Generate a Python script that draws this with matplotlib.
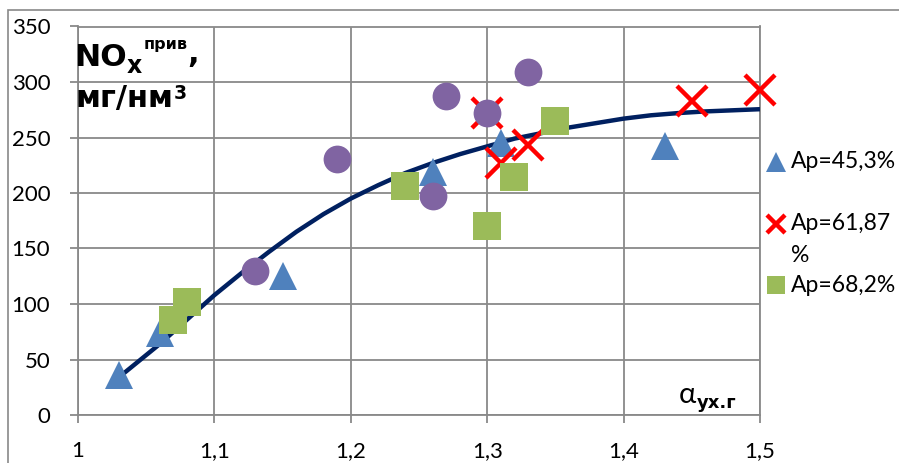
import matplotlib
matplotlib.use("Agg")
import matplotlib.pyplot as plt
from matplotlib.lines import Line2D
from matplotlib.patches import Rectangle

plt.rcParams['font.family'] = ['Lato', 'DejaVu Sans']

# series Ap=45,3%
tri_x = [1.03, 1.06, 1.15, 1.26, 1.31, 1.43]
tri_y = [36, 74, 125, 219, 245, 242]
# series Ap=61,87%
cross_x = [1.30, 1.31, 1.33, 1.45, 1.50]
cross_y = [272, 227, 243, 283, 293]
# series Ap=68,2%
sq_x = [1.07, 1.08, 1.24, 1.30, 1.32, 1.35]
sq_y = [86, 102, 206, 170, 214, 265]
# extra points (no legend entry)
circ_x = [1.13, 1.19, 1.26, 1.27, 1.30, 1.33]
circ_y = [130, 231, 197, 287, 272, 309]
# trend curve
trend_x = [1.03, 1.045, 1.06, 1.08, 1.10, 1.12, 1.14, 1.16, 1.18, 1.20,
           1.22, 1.24, 1.26, 1.28, 1.30, 1.32, 1.34, 1.36, 1.38, 1.40,
           1.42, 1.44, 1.46, 1.48, 1.50]
trend_y = [34, 49, 64, 86, 108, 128, 147, 165, 181, 195,
           207, 218, 227, 235, 242, 249, 254, 259, 263, 267,
           270, 272, 273.5, 274.5, 275.5]

xticks = [1.0, 1.1, 1.2, 1.3, 1.4, 1.5]
xtick_labels = ['1', '1,1', '1,2', '1,3', '1,4', '1,5']
yticks = [0, 50, 100, 150, 200, 250, 300, 350]
legend_labels = ['Ap=45,3%', 'Ap=61,87', 'Ap=68,2%']

W, H = 899, 463
grey = '#898989'


def px(x, y):
    "pixel position (from top-left) -> figure fraction"
    return x / W, 1 - y / H


fig = plt.figure(figsize=(W / 100, H / 100), dpi=100)
ax = fig.add_axes([78 / W, 1 - 415 / H, (760 - 78) / W, (415 - 26.5) / H])

ax.plot(trend_x, trend_y, color='#002060', lw=3.2, zorder=3, solid_capstyle='butt')
ax.plot(tri_x, tri_y, ls='none', marker='^', ms=20, color='#4F81BD', mew=0,
        zorder=4, clip_on=False)
ax.plot(cross_x, cross_y, ls='none', marker='x', ms=21, mew=3.2, color='#FF0000',
        zorder=5, clip_on=False)
ax.plot(sq_x, sq_y, ls='none', marker='s', ms=20, color='#9BBB59', mew=0,
        zorder=6, clip_on=False)
ax.plot(circ_x, circ_y, ls='none', marker='o', ms=20, color='#8064A2', mew=0,
        zorder=7, clip_on=False)

ax.set_xlim(1.0, 1.5)
ax.set_ylim(0, 350)
ax.set_xticks(xticks)
ax.set_xticklabels(xtick_labels)
ax.set_yticks(yticks)
ax.grid(True, color=grey, lw=1.3)
ax.set_axisbelow(True)
for s in ax.spines.values():
    s.set_color(grey)
    s.set_linewidth(1.3)
ax.tick_params(axis='both', direction='out', length=6, width=1.3, color=grey,
               labelsize=16, labelcolor='black')
ax.tick_params(axis='x', pad=13)
ax.tick_params(axis='y', pad=14)

# outer chart frame
fig.patches.append(Rectangle(px(8, 600), 2, (600 - 10) / H, transform=fig.transFigure,
                             fill=False, edgecolor=grey, lw=1.2))

# y axis caption, pieces chained one after another
heavy = dict(color='black', fontweight='bold', family='DejaVu Sans')
t_no = fig.text(*px(74, 66), 'NO', fontsize=22.5, va='baseline', **heavy)
t_x = plt.annotate('x', xy=(1, 0), xycoords=t_no, xytext=(0, -1),
                   textcoords='offset points', fontsize=17, va='baseline', **heavy)
t_pr = plt.annotate('прив', xy=(1, 0), xycoords=t_x, xytext=(1, 21),
                    textcoords='offset points', fontsize=11.5, va='baseline', **heavy)
plt.annotate(',', xy=(1, 0), xycoords=t_pr, xytext=(0, -8),
             textcoords='offset points', fontsize=22, va='baseline', **heavy)
t_mg = fig.text(*px(76, 107), 'мг/нм', fontsize=22, va='baseline', **heavy)
plt.annotate('3', xy=(1, 0), xycoords=t_mg, xytext=(0, 10),
             textcoords='offset points', fontsize=13.5, va='baseline', **heavy)

# x axis caption
fig.text(*px(679, 403), 'α', fontsize=21, va='baseline', color='black')
fig.text(*px(697, 408), 'ух.г', fontsize=13, va='baseline', **heavy)

# legend
handles = [
    dict(marker='^', ms=14, color='#4F81BD', mew=0),
    dict(marker='x', ms=13, mew=3.2, color='#FF0000'),
    dict(marker='s', ms=13, color='#9BBB59', mew=0),
]
rows = [162, 224, 285]
for h, lab, y in zip(handles, legend_labels, rows):
    fig.add_artist(Line2D([776 / W], [1 - y / H], ls='none',
                          transform=fig.transFigure, **h))
    fig.text(*px(791, y), lab, fontsize=16.5, va='center', color='black')
fig.text(*px(791, 256), '%', fontsize=16.5, va='center', color='black')

fig.savefig('out.png', dpi=100)
